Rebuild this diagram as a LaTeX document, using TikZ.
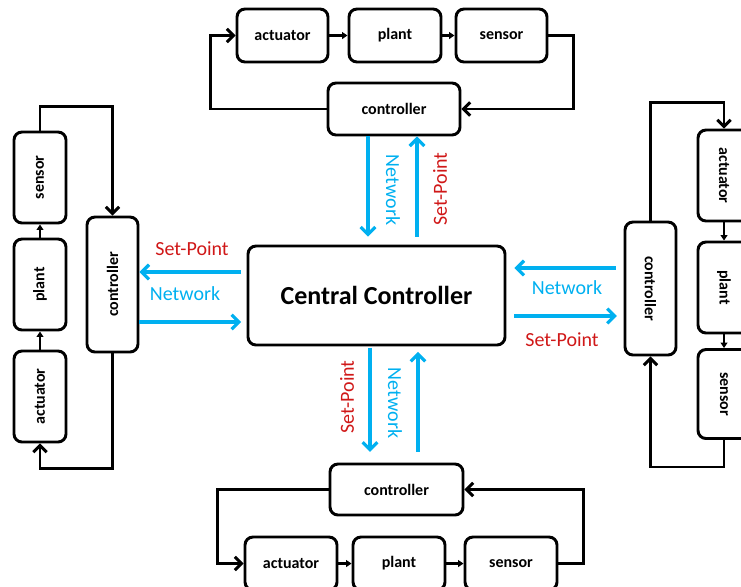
\documentclass[tikz,border=0pt]{standalone}
\usepackage{fontspec}
\setmainfont{Carlito}
\usetikzlibrary{arrows.meta}
\definecolor{netblue}{RGB}{0,176,240}
\definecolor{spred}{RGB}{208,24,24}
\begin{document}
\begin{tikzpicture}[x=0.75pt,y=-0.75pt,
  blk/.style={draw, line width=2.2pt, rounded corners=6pt, inner sep=0pt, fill=white,
              font=\fontsize{12}{14}\selectfont\bfseries},
  sz/.style 2 args={minimum width=#1*0.75pt, minimum height=#2*0.75pt},
  fb/.style={line width=2.2pt, -{Straight Barb[length=5pt,width=10pt]}},
  link/.style={line width=1.6pt, -{Triangle[length=4pt,width=5pt]}},
  net/.style={draw=netblue, line width=2.4pt, -{Straight Barb[length=5.5pt,width=11pt]}},
  lbl/.style={font=\fontsize{15}{17}\selectfont, inner sep=0pt},
  bluelbl/.style={lbl, text=netblue},
  redlbl/.style={lbl, text=spred}]
\useasboundingbox (0,0) rectangle (741,586);
\clip (0,0) rectangle (741,586);

% central controller
\node[blk, sz={257}{99}, font=\fontsize{19.5}{22}\selectfont\bfseries] (CC) at (376.5,295.5) {Central Controller};

% top loop
\node[blk, sz={91}{53}] (tA) at (282.5,35.5) {actuator};
\node[blk, sz={92}{53}] (tP) at (395,35.5) {plant};
\node[blk, sz={91}{53}] (tS) at (501.5,35.5) {sensor};
\node[blk, sz={132}{52}] (tC) at (394,109) {controller};
\draw[link] (tA) -- (tP);
\draw[link] (tP) -- (tS);
\draw[fb] (tS.east) -- ++(25,0) |- (tC.east);
\draw[fb] (tC.west) -- ++(-116,0) |- (tA.west);

% left loop (text reads upwards: east = top, south = right)
\node[blk, sz={91}{52}, rotate=90] (lS) at (40,177.5) {sensor};
\node[blk, sz={91}{52}, rotate=90] (lP) at (40,284.5) {plant};
\node[blk, sz={91}{52}, rotate=90] (lA) at (40,396.5) {actuator};
\node[blk, sz={135}{51}, rotate=90] (lC) at (112.5,284.5) {controller};
\draw[link] (lA) -- (lP);
\draw[link] (lP) -- (lS);
\draw[fb] (lS.east) -- ++(0,-24) -| (lC.east);
\draw[fb] (lC.west) -- ++(0,115) -| (lA.west);

% right loop (text reads downwards: west = top, south = left)
\node[blk, sz={91}{52}, rotate=-90] (rA) at (724,175.5) {actuator};
\node[blk, sz={91}{52}, rotate=-90] (rP) at (724,287.5) {plant};
\node[blk, sz={89}{52}, rotate=-90] (rS) at (724,394) {sensor};
\node[blk, sz={133}{51}, rotate=-90] (rC) at (650.5,288.5) {controller};
\draw[link] (rA) -- (rP);
\draw[link] (rP) -- (rS);
\draw[fb] (rC.west) -- ++(0,-118) -| (rA.west);
\draw[fb] (rS.east) -- ++(0,27) -| (rC.east);

% bottom loop
\node[blk, sz={133}{51}] (bC) at (396.5,489.5) {controller};
\node[blk, sz={92}{53}] (bA) at (291,563.5) {actuator};
\node[blk, sz={92}{53}] (bP) at (399,563.5) {plant};
\node[blk, sz={92}{53}] (bS) at (511,563.5) {sensor};
\draw[link] (bA) -- (bP);
\draw[link] (bP) -- (bS);
\draw[fb] (bC.west) -- ++(-111,0) |- (bA.west);
\draw[fb] (bS.east) -- ++(25,0) |- (bC.east);

% network links to the central controller
\coordinate (tx1) at (368,0);
\coordinate (tx2) at (417,0);
\draw[net, shorten >=6pt] (tC.south -| tx1) -- (CC.north -| tx1);
\draw[net, shorten <=6pt] (CC.north -| tx2) -- (tC.south -| tx2);
\node[bluelbl, rotate=-90] (tN) at (393,190) {Network};
\node[redlbl, rotate=90] (tSP) at (440,189) {Set-Point};

\coordinate (bx1) at (370,0);
\coordinate (bx2) at (418,0);
\draw[net, shorten <=1pt, shorten >=8pt] (CC.south -| bx1) -- (bC.north -| bx1);
\draw[net, shorten <=8pt, shorten >=4pt] (bC.north -| bx2) -- (CC.south -| bx2);
\node[redlbl, rotate=90] (bSP) at (347,397) {Set-Point};
\node[bluelbl, rotate=-90] (bN) at (395,403) {Network};

\coordinate (ly1) at (0,272);
\coordinate (ly2) at (0,322);
\draw[net, shorten <=4pt] (CC.west |- ly1) -- (lC.south |- ly1);
\draw[net, shorten >=4pt] (lC.south |- ly2) -- (CC.west |- ly2);
\node[redlbl] (lSP) at (192,249) {Set-Point};
\node[bluelbl] (lN) at (185,294) {Network};

\coordinate (ry1) at (0,268);
\coordinate (ry2) at (0,316);
\draw[net, shorten <=6pt, shorten >=6pt] (rC.south |- ry1) -- (CC.east |- ry1);
\draw[net, shorten <=6pt, shorten >=5pt] (CC.east |- ry2) -- (rC.south |- ry2);
\node[bluelbl] (rN) at (567,288) {Network};
\node[redlbl] (rSP) at (562,340) {Set-Point};
\end{tikzpicture}
\end{document}
